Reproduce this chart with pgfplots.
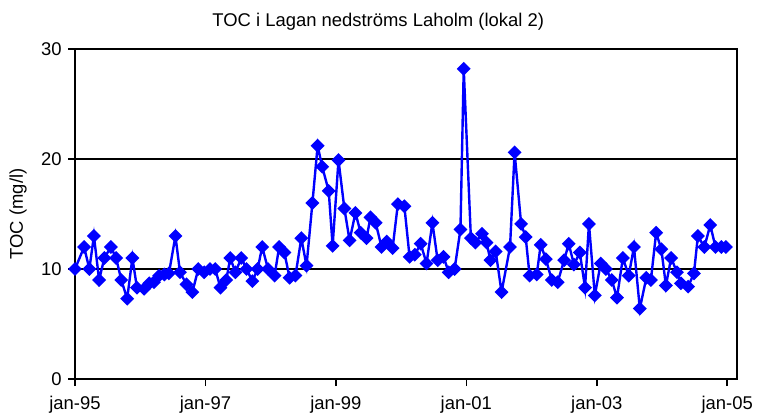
\documentclass[border=0pt]{standalone}
\usepackage{fontspec}
\setmainfont{Liberation Sans}
\usepackage{pgfplots}
\pgfplotsset{compat=1.18}

\begin{document}
\fontsize{18.5}{22}\selectfont
\begin{tikzpicture}
\useasboundingbox (-75bp,-40bp) rectangle (682bp,379bp);
\begin{axis}[
    at={(0,0)}, anchor=south west,
    scale only axis,
    width=662bp, height=330bp,
    xmin=0, xmax=10.15,
    ymin=0, ymax=30,
    xtick={0,2,4,6,8,10},
    xticklabels={jan-95,jan-97,jan-99,jan-01,jan-03,jan-05},
    ytick={0,10,20,30},
    tick align=outside,
    tick pos=left,
    major tick length=7bp,
    tick style={black, line width=1.5bp},
    axis line style={black, line width=1.8bp},
    ymajorgrids,
    grid style={black, line width=1.8bp},
    /pgf/number format/assume math mode=true,
    ticklabel style={font=\fontsize{18.5}{22}\selectfont},
    xticklabel style={yshift=-4bp},
    ylabel={TOC (mg/l)},
    ylabel style={at={(axis description cs:-0.086,0.5)}, anchor=center},
    clip=false,
]
\addplot[blue, line width=2.4bp, mark=square*, mark size=3.7bp,
         mark options={rotate=45, solid, fill=blue}] table {
x y
0.00 10.0
0.14 12.0
0.22 10.0
0.29 13.0
0.37 9.0
0.45 11.0
0.55 12.0
0.63 11.0
0.71 9.0
0.80 7.3
0.88 11.0
0.95 8.3
1.06 8.2
1.14 8.7
1.21 8.8
1.29 9.4
1.37 9.5
1.44 9.6
1.54 13.0
1.61 9.7
1.71 8.6
1.80 7.9
1.89 10.0
1.98 9.7
2.07 10.0
2.15 10.0
2.23 8.3
2.32 9.0
2.38 11.0
2.46 9.7
2.55 11.0
2.63 10.0
2.72 8.9
2.80 10.0
2.87 12.0
2.96 10.0
3.06 9.4
3.13 12.0
3.21 11.5
3.29 9.2
3.38 9.4
3.47 12.8
3.55 10.3
3.64 16.0
3.72 21.2
3.79 19.3
3.89 17.1
3.95 12.1
4.04 19.9
4.13 15.5
4.21 12.6
4.30 15.1
4.38 13.3
4.47 12.8
4.53 14.7
4.61 14.2
4.70 12.0
4.78 12.5
4.87 11.9
4.95 15.9
5.05 15.7
5.13 11.1
5.21 11.3
5.30 12.3
5.39 10.5
5.48 14.2
5.56 10.8
5.65 11.1
5.73 9.7
5.82 10.0
5.91 13.6
5.96 28.2
6.07 12.8
6.14 12.4
6.24 13.2
6.31 12.4
6.37 10.8
6.45 11.6
6.54 7.9
6.67 12.0
6.74 20.6
6.84 14.1
6.91 12.9
6.97 9.4
7.08 9.5
7.14 12.2
7.22 10.9
7.31 9.0
7.40 8.8
7.50 10.8
7.57 12.3
7.65 10.4
7.74 11.5
7.82 8.3
7.88 14.1
7.97 7.6
8.06 10.5
8.14 10.0
8.23 9.0
8.31 7.4
8.40 11.0
8.49 9.4
8.57 12.0
8.66 6.4
8.76 9.2
8.83 9.0
8.91 13.3
8.99 11.8
9.06 8.5
9.14 11.0
9.23 9.7
9.29 8.7
9.40 8.4
9.49 9.6
9.55 13.0
9.65 12.0
9.74 14.0
9.82 12.0
9.91 12.0
9.98 12.0
};
\node[anchor=base, yshift=23bp] at (rel axis cs:0.458,1) {TOC i Lagan nedströms Laholm (lokal 2)};
\end{axis}
\end{tikzpicture}
\end{document}
